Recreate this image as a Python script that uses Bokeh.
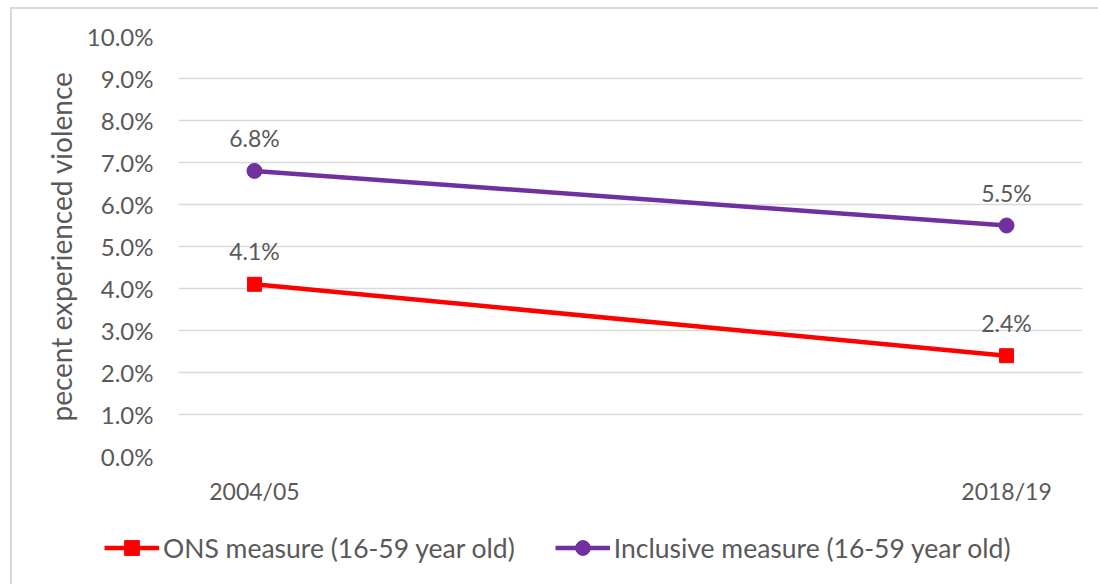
from bokeh.plotting import figure
from bokeh.layouts import column
from bokeh.models import (FixedTicker, PrintfTickFormatter, Legend, LegendItem,
                          ColumnDataSource, LabelSet, Range1d)
from bokeh.core.properties import value
from bokeh.embed import file_html
from bokeh.resources import INLINE

periods = ["2004/05", "2018/19"]
ons_measure = [4.1, 2.4]
inclusive_measure = [6.8, 5.5]
y_ticks = [0, 1, 2, 3, 4, 5, 6, 7, 8, 9, 10]
series_names = ["ONS measure (16-59 year old)", "Inclusive measure (16-59 year old)"]

FONT = "Lato"
GREY = "#595959"
RED = "#FF0000"
PURPLE = "#7030A0"

xs = list(range(len(periods)))

p = figure(width=1086, height=511, output_backend="svg", toolbar_location=None,
           x_range=Range1d(-0.101, 1.101), y_range=Range1d(0, 10),
           min_border_left=166, min_border_right=16, min_border_top=27, min_border_bottom=64)
p.outline_line_color = None
p.background_fill_color = "white"
p.border_fill_color = "white"

# grid
p.xgrid.visible = False
p.ygrid.grid_line_color = "#D9D9D9"
p.ygrid.grid_line_width = 1.5

# y axis
p.yaxis.ticker = FixedTicker(ticks=y_ticks)
p.yaxis.formatter = PrintfTickFormatter(format="%.1f%%")
p.yaxis.axis_line_color = None
p.yaxis.major_tick_line_color = None
p.yaxis.minor_tick_line_color = None
p.yaxis.major_label_text_font = FONT
p.yaxis.major_label_text_font_size = "24px"
p.yaxis.major_label_text_color = GREY
p.yaxis.major_label_standoff = 19
p.yaxis.axis_label = "pecent experienced violence"
p.yaxis.axis_label_text_font = FONT
p.yaxis.axis_label_text_font_size = "28px"
p.yaxis.axis_label_text_font_style = "normal"
p.yaxis.axis_label_text_color = GREY
p.yaxis.axis_label_standoff = 6

# x axis
p.xaxis.ticker = FixedTicker(ticks=xs)
p.xaxis.major_label_overrides = {i: lab for i, lab in zip(xs, periods)}
p.xaxis.axis_line_color = None
p.xaxis.major_tick_line_color = None
p.xaxis.minor_tick_line_color = None
p.xaxis.major_label_text_font = FONT
p.xaxis.major_label_text_font_size = "23px"
p.xaxis.major_label_text_color = GREY
p.xaxis.major_label_standoff = 14

# series
p.line(xs, ons_measure, line_color=RED, line_width=4.5)
p.scatter(xs, ons_measure, marker="square", size=14, fill_color=RED, line_color=RED)
p.line(xs, inclusive_measure, line_color=PURPLE, line_width=4.5)
p.scatter(xs, inclusive_measure, marker="circle", size=15, fill_color=PURPLE, line_color=PURPLE)

# data labels
for vals in (ons_measure, inclusive_measure):
    src = ColumnDataSource(dict(x=xs, y=vals, label=["%.1f%%" % v for v in vals]))
    p.add_layout(LabelSet(x="x", y="y", text="label", source=src,
                          text_align="center", text_baseline="middle", y_offset=33,
                          text_font=value(FONT), text_font_size="23px", text_color=GREY))

# legend strip (separate canvas so the legend is not clipped by the plot frame);
# its ranges keep the series themselves out of view, only the legend shows
q = figure(width=1086, height=64, output_backend="svg", toolbar_location=None,
           x_axis_location=None, y_axis_location=None,
           x_range=Range1d(-0.101, 1.101), y_range=Range1d(100, 101),
           min_border=0, min_border_left=0, min_border_right=0,
           min_border_top=0, min_border_bottom=0)
q.outline_line_color = None
q.grid.visible = False
q.background_fill_color = "white"
q.border_fill_color = "white"
k1l = q.line(xs, ons_measure, line_color=RED, line_width=4.5)
k1m = q.scatter(xs, ons_measure, marker="square", size=15, fill_color=RED, line_color=RED)
k2l = q.line(xs, inclusive_measure, line_color=PURPLE, line_width=4.5)
k2m = q.scatter(xs, inclusive_measure, marker="circle", size=15, fill_color=PURPLE, line_color=PURPLE)

legend = Legend(items=[LegendItem(label=series_names[0], renderers=[k1l, k1m]),
                       LegendItem(label=series_names[1], renderers=[k2l, k2m])],
                orientation="horizontal", location=(92, 18))
legend.label_text_font = FONT
legend.label_text_font_size = "26.5px"
legend.label_text_color = GREY
legend.glyph_width = 55
legend.glyph_height = 37
legend.label_standoff = 4
legend.spacing = 40
legend.padding = 0
legend.margin = 0
legend.border_line_color = None
legend.background_fill_alpha = 0
q.add_layout(legend, "center")

for fig in (p, q):
    if "frame_align" in fig.properties():
        fig.frame_align = False

layout = column(p, q, spacing=0,
                styles={"margin-left": "10px", "margin-top": "7px",
                        "border-left": "2px solid #D9D9D9", "border-top": "2px solid #D9D9D9"})

open("out.html", "w").write(file_html(layout, INLINE))
